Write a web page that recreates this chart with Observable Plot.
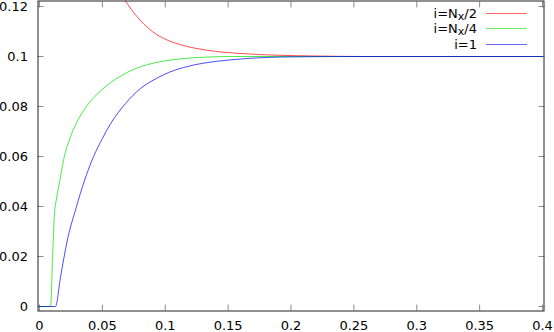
<!DOCTYPE html>
<html>
<head>
<meta charset="utf-8">
<script src="https://cdn.jsdelivr.net/npm/d3@7"></script>
<script src="https://cdn.jsdelivr.net/npm/@observablehq/plot@0.6"></script>
<style>
  html, body { margin: 0; padding: 0; background: #fff; }
  #wrap { position: relative; width: 554px; height: 332px; font-family: "DejaVu Sans", sans-serif; font-size: 13px; color: #000; }
  #legend { position: absolute; top: 5.5px; right: 27px; }
  .row { display: flex; align-items: center; justify-content: flex-end; height: 15.5px; line-height: 13px; white-space: nowrap; }
  .row sub { font-size: 0.85em; line-height: 0; vertical-align: -0.2em; }
  .sw { display: inline-block; width: 41px; height: 1px; margin-left: 9px; }
</style>
</head>
<body>
<div id="wrap">
  <div id="chart"></div>
  <div id="legend"></div>
</div>
<script>
// ---- data ----
const seriesNames = ["i=N<sub>x</sub>/2", "i=N<sub>x</sub>/4", "i=1"];
const seriesColors = ["#ff0000", "#00e000", "#0000ff"];

const redX   = [0.05, 0.06, 0.07, 0.0803, 0.09, 0.1015, 0.1145, 0.1333, 0.16, 0.19, 0.22, 0.26, 0.40];
const redY   = [0.142, 0.1300, 0.1210, 0.1144, 0.1099, 0.1066, 0.1044, 0.1025, 0.1012, 0.1005, 0.1002, 0.1000, 0.1000];

const greenX = [0, 0.0088, 0.0104, 0.0119, 0.0135, 0.0160, 0.0193, 0.0240, 0.0300, 0.0366, 0.0430, 0.0485, 0.0600, 0.0700, 0.0803, 0.0910, 0.1015, 0.1150, 0.1300, 0.1540, 0.2000, 0.4000];
const greenY = [0, 0, 0.0200, 0.0370, 0.0430, 0.0500, 0.0590, 0.0670, 0.0740, 0.0795, 0.0835, 0.0862, 0.0908, 0.0937, 0.0959, 0.0974, 0.0984, 0.0992, 0.0997, 0.1000, 0.1000, 0.1000];

const blueX  = [0, 0.0127, 0.0167, 0.0220, 0.0292, 0.0358, 0.0430, 0.0500, 0.0565, 0.0684, 0.0803, 0.0883, 0.1000, 0.1145, 0.1300, 0.1413, 0.1600, 0.1678, 0.1940, 0.2500, 0.4000];
const blueY  = [0, 0, 0.0117, 0.0262, 0.0396, 0.0504, 0.0600, 0.0672, 0.0731, 0.0812, 0.0872, 0.0899, 0.0930, 0.0956, 0.0973, 0.0981, 0.0990, 0.0993, 0.0998, 0.1000, 0.1000];

const xTicks = [0, 0.05, 0.1, 0.15, 0.2, 0.25, 0.3, 0.35, 0.4];
const xTickLabels = ["0", "0.05", "0.1", "0.15", "0.2", "0.25", "0.3", "0.35", "0.4"];
const yTicks = [0, 0.02, 0.04, 0.06, 0.08, 0.1, 0.12];
const yTickLabels = ["0", "0.02", "0.04", "0.06", "0.08", "0.1", "0.12"];

// ---- build tables ----
const toRows = (xs, ys) => xs.map((x, i) => ({x, y: ys[i]}));
const red = toRows(redX, redY);
const green = toRows(greenX, greenY);
const blue = toRows(blueX, blueY);

const tickColor = "#8c8c8c";
const lineOpts = (c) => ({x: "x", y: "y", stroke: c, strokeWidth: 1, strokeOpacity: 0.7, curve: "monotone-x", clip: true});

const chart = Plot.plot({
  width: 554,
  height: 332,
  marginLeft: 37.5,
  marginRight: 10.5,
  marginTop: 0.5,
  marginBottom: 21.5,
  x: {domain: [0, 0.4], insetLeft: 1.5, insetRight: 1.5},
  y: {domain: [0, 0.12], insetTop: 5.5, insetBottom: 4.5},
  style: {fontFamily: "DejaVu Sans", fontSize: "13px", color: "#000", background: "transparent"},
  marks: [
    // inward ticks on all four sides
    Plot.axisX(xTicks, {anchor: "bottom", label: null, tickSize: 6, insetBottom: 6, stroke: tickColor, tickFormat: () => ""}),
    Plot.axisX(xTicks, {anchor: "top", label: null, tickSize: 6, insetTop: 6, stroke: tickColor, tickFormat: () => ""}),
    Plot.axisY(yTicks, {anchor: "left", label: null, tickSize: 6, insetLeft: 6, stroke: tickColor, tickFormat: () => ""}),
    Plot.axisY(yTicks, {anchor: "right", label: null, tickSize: 6, insetRight: 6, stroke: tickColor, tickFormat: () => ""}),
    // tick labels
    Plot.axisX(xTicks, {anchor: "bottom", label: null, tickSize: 0, tickPadding: 10, fill: "#000", tickFormat: d => xTickLabels[xTicks.indexOf(d)]}),
    Plot.axisY(yTicks, {anchor: "left", label: null, tickSize: 0, tickPadding: 10, fill: "#000", tickFormat: d => yTickLabels[yTicks.indexOf(d)]}),
    // curves
    Plot.line(red, lineOpts(seriesColors[0])),
    Plot.line(green, lineOpts(seriesColors[1])),
    Plot.line(blue, lineOpts(seriesColors[2])),
    Plot.frame({stroke: "#222", strokeWidth: 1})
  ]
});
document.getElementById("chart").appendChild(chart);

// ---- legend ----
const legend = document.getElementById("legend");
seriesNames.forEach((name, i) => {
  const row = document.createElement("div");
  row.className = "row";
  const label = document.createElement("span");
  label.innerHTML = name;
  const sw = document.createElement("span");
  sw.className = "sw";
  sw.style.background = seriesColors[i];
  sw.style.opacity = 0.6;
  row.appendChild(label);
  row.appendChild(sw);
  legend.appendChild(row);
});
</script>
</body>
</html>
